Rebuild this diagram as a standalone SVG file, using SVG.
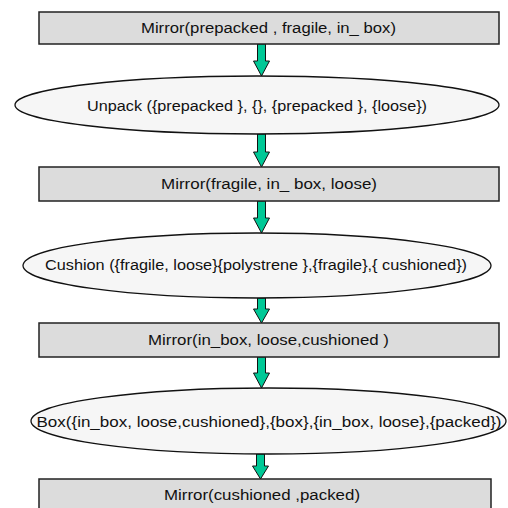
<svg xmlns="http://www.w3.org/2000/svg" width="508" height="508" viewBox="0 0 508 508">
<defs>
<style>
.box{fill:#dcdcdc;stroke:#222;stroke-width:1.5}
.ell{fill:#f6f6f6;stroke:#111;stroke-width:1.3}
.lbl{font-family:"Liberation Sans","DejaVu Sans",sans-serif;font-size:14px;fill:#111;text-anchor:middle}
.arr{fill:#00c896;stroke:#111;stroke-width:1}
</style>
</defs>
<rect width="508" height="508" fill="#fff"/>
<g id="connectors">
<path class="arr" d="M257.5,44 H265.5 V61 H269.5 L261.5,76 L253.5,61 H257.5 Z"/>
<path class="arr" d="M257.5,134 H265.5 V152 H269.5 L261.5,167 L253.5,152 H257.5 Z"/>
<path class="arr" d="M257.5,201 H265.5 V218 H269.5 L261.5,233 L253.5,218 H257.5 Z"/>
<path class="arr" d="M257.5,298 H265.5 V309 H269.5 L261.5,323 L253.5,309 H257.5 Z"/>
<path class="arr" d="M257.5,357 H265.5 V373 H269.5 L261.5,388 L253.5,373 H257.5 Z"/>
<path class="arr" d="M256.5,454 H264.5 V466 H268.5 L260.5,479 L252.5,466 H256.5 Z"/>
</g>
<g id="n1">
<rect class="box" x="39" y="12" width="460" height="32"/>
<text class="lbl" x="268.5" y="33" textLength="255" lengthAdjust="spacingAndGlyphs">Mirror(prepacked , fragile, in_ box)</text>
</g>
<g id="n2">
<ellipse class="ell" cx="257" cy="105" rx="242" ry="29"/>
<text class="lbl" x="257" y="111" textLength="340" lengthAdjust="spacingAndGlyphs">Unpack ({prepacked }, {}, {prepacked }, {loose})</text>
</g>
<g id="n3">
<rect class="box" x="39" y="167" width="460" height="34"/>
<text class="lbl" x="269" y="189" textLength="216" lengthAdjust="spacingAndGlyphs">Mirror(fragile, in_ box, loose)</text>
</g>
<g id="n4">
<ellipse class="ell" cx="257" cy="265.5" rx="234" ry="32.5"/>
<text class="lbl" x="256" y="270" textLength="422" lengthAdjust="spacingAndGlyphs">Cushion ({fragile, loose}{polystrene },{fragile},{ cushioned})</text>
</g>
<g id="n5">
<rect class="box" x="39" y="323" width="460" height="34"/>
<text class="lbl" x="268.5" y="345" textLength="241" lengthAdjust="spacingAndGlyphs">Mirror(in_box, loose,cushioned )</text>
</g>
<g id="n6">
<ellipse class="ell" cx="268.5" cy="421" rx="237.5" ry="33"/>
<text class="lbl" x="269" y="427" textLength="465" lengthAdjust="spacingAndGlyphs">Box({in_box, loose,cushioned},{box},{in_box, loose},{packed})</text>
</g>
<g id="n7">
<rect class="box" x="39" y="479" width="452" height="40"/>
<text class="lbl" x="262" y="500" textLength="196" lengthAdjust="spacingAndGlyphs">Mirror(cushioned ,packed)</text>
</g>
</svg>
